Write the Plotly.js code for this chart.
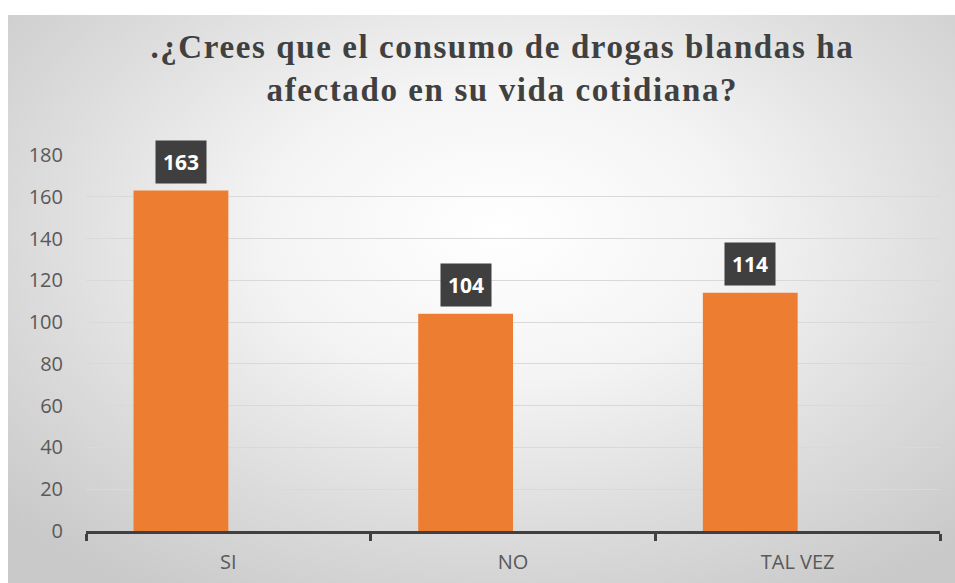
<!DOCTYPE html>
<html>
<head>
<meta charset="utf-8">
<script src="https://cdn.plot.ly/plotly-3.0.1.min.js"></script>
<style>
  html, body { margin: 0; padding: 0; background: #ffffff; }
  #chart {
    position: absolute; left: 8px; top: 15px; width: 947px; height: 568px;
    background: radial-gradient(ellipse 70% 75% at 52% 38%, #ffffff 0%, #f4f4f4 35%, #dcdcdc 70%, #c9c9c9 100%);
  }
  #chart .gtitle { letter-spacing: 1.6px; }
</style>
</head>
<body>
<div id="chart"></div>
<script>
const categories = ["SI", "NO", "TAL VEZ"];
const values = [163, 104, 114];
const yTicks = [0, 20, 40, 60, 80, 100, 120, 140, 160, 180];
const chartTitle = ".¿Crees que el consumo de drogas blandas ha<br>afectado en su vida cotidiana?";

const barWidth = 0.333;

const trace = {
  type: "bar",
  x: categories,
  y: values,
  marker: { color: "#ED7D31" },
  width: barWidth,
  offset: -barWidth,
  hoverinfo: "x+y"
};

const annotations = categories.map((c, i) => ({
  x: i - barWidth / 2, y: values[i], xref: "x", yref: "y",
  text: "<b>" + values[i] + "</b>",
  showarrow: false,
  yanchor: "bottom",
  yshift: 7,
  bgcolor: "#3f3f3f",
  borderpad: 7,
  font: { family: "Open Sans, Liberation Sans, sans-serif", size: 21, color: "#ffffff" }
}));

const layout = {
  width: 947, height: 568,
  paper_bgcolor: "rgba(0,0,0,0)",
  plot_bgcolor: "rgba(0,0,0,0)",
  margin: { l: 78, r: 15, t: 140, b: 52 },
  title: {
    text: chartTitle,
    font: { family: "Liberation Serif, Times New Roman, serif", size: 33, color: "#404040", weight: "bold" },
    xref: "container", x: 0.522, xanchor: "center",
    yref: "container", y: 0.924, yanchor: "middle"
  },
  xaxis: {
    type: "category",
    range: [-0.5, 2.5],
    showline: true, linecolor: "#404040", linewidth: 3,
    ticks: "outside", tickson: "boundaries", ticklen: 7, tickwidth: 3, tickcolor: "#404040",
    tickfont: { family: "Open Sans, Liberation Sans, sans-serif", size: 20, color: "#595959" },
    ticklabelstandoff: 11,
    showgrid: false
  },
  yaxis: {
    range: [0, 180],
    tickvals: yTicks,
    ticktext: yTicks.map(String),
    showgrid: true, gridcolor: "#d9d9d9", gridwidth: 1,
    zeroline: false,
    showline: false, ticks: "",
    tickfont: { family: "Open Sans, Liberation Sans, sans-serif", size: 20, color: "#595959" },
    ticklabelstandoff: 22
  },
  annotations: annotations,
  showlegend: false
};

Plotly.newPlot("chart", [trace], layout, { displayModeBar: false });
</script>
</body>
</html>
